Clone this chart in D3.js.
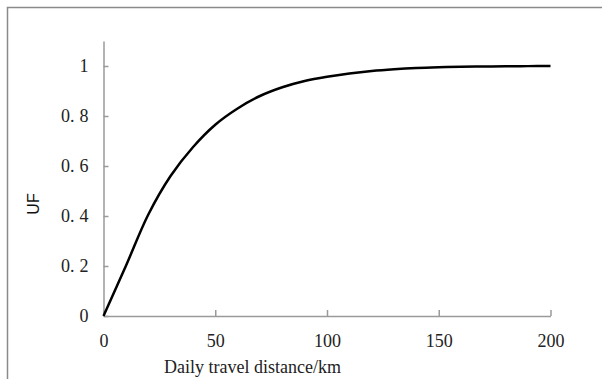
<!DOCTYPE html>
<html>
<head>
<meta charset="utf-8">
<script src="https://cdn.jsdelivr.net/npm/d3@7.9.0/dist/d3.min.js"></script>
<style>
  body { margin: 0; background: #fff; }
  svg { display: block; }
  .tick text { font-family: "Liberation Serif", "Times New Roman", serif; font-size: 18px; fill: #222; }
</style>
</head>
<body>
<svg width="602" height="379"></svg>
<script>
// values
const distance = [0, 10, 20, 30, 40, 50, 60, 70, 80, 90, 100, 110, 120, 130, 140, 150, 160, 170, 180, 190, 200];
const uf = [0, 0.20, 0.405, 0.56, 0.675, 0.765, 0.83, 0.88, 0.915, 0.94, 0.957, 0.97, 0.98, 0.987, 0.992, 0.995, 0.997, 0.998, 0.999, 0.9995, 1.0];
const xTicks = [0, 50, 100, 150, 200];
const yTicks = [0, 0.2, 0.4, 0.6, 0.8, 1];

const svg = d3.select('svg');

// chart frame (cut off on right and bottom)
svg.append('rect')
  .attr('x', 7.5).attr('y', 7.5)
  .attr('width', 700).attr('height', 500)
  .attr('fill', 'none')
  .attr('stroke', '#8a8a8a')
  .attr('stroke-width', 1.5);

const x = d3.scaleLinear().domain([0, 200]).range([103.5, 550.5]);
const y = d3.scaleLinear().domain([0, 1.1]).range([316, 41]);

const axisColor = '#9a9a9a';

// y axis
const yAxis = svg.append('g')
  .attr('transform', `translate(${x(0)},0)`)
  .call(d3.axisLeft(y).tickValues(yTicks).tickSizeInner(-5).tickSizeOuter(0).tickPadding(15)
    .tickFormat(d => d3.format('~g')(d)));
yAxis.select('.domain').attr('stroke', axisColor).attr('stroke-width', 1.5);
yAxis.selectAll('.tick line').attr('stroke', axisColor).attr('stroke-width', 1.5);
// wide gap after the decimal point, as in the reference font
yAxis.selectAll('.tick text').each(function(d) {
  const s = d3.format('~g')(d);
  if (s.includes('.')) {
    const [a, b] = s.split('.');
    const t = d3.select(this).text(a + '.');
    t.append('tspan').attr('dx', 5).text(b);
  }
});

// x axis
const xAxis = svg.append('g')
  .attr('transform', `translate(0,${y(0)})`)
  .call(d3.axisBottom(x).tickValues(xTicks).tickSizeInner(-6).tickSizeOuter(0).tickPadding(18));
xAxis.select('.domain').attr('stroke', axisColor).attr('stroke-width', 1.5);
xAxis.selectAll('.tick line').attr('stroke', axisColor).attr('stroke-width', 1.5);

// curve
const line = d3.line()
  .x((d, i) => x(distance[i]))
  .y(d => y(d))
  .curve(d3.curveCatmullRom.alpha(0.5));

svg.append('path')
  .datum(uf)
  .attr('d', line)
  .attr('fill', 'none')
  .attr('stroke', '#000')
  .attr('stroke-width', 2.5);

// axis titles
svg.append('text')
  .attr('x', 164).attr('y', 373)
  .attr('font-family', '"Liberation Serif", "Times New Roman", serif')
  .attr('font-size', 18)
  .attr('fill', '#222')
  .text('Daily travel distance/km');

svg.append('text')
  .attr('transform', 'translate(39,204) rotate(-90)')
  .attr('text-anchor', 'middle')
  .attr('font-family', '"Liberation Sans", Arial, sans-serif')
  .attr('font-size', 16)
  .attr('fill', '#111')
  .text('UF');
</script>
</body>
</html>
